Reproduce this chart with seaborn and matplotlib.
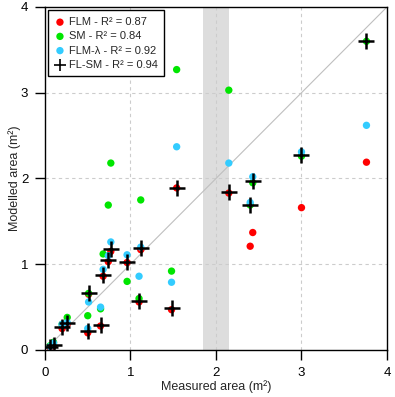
import numpy as np
import pandas as pd
import seaborn as sns
import matplotlib.pyplot as plt

# Measured vs modelled areas (m²)
measured = [0.06, 0.10, 0.20, 0.26, 0.50, 0.51, 0.65, 0.68, 0.74, 0.77,
            0.96, 1.10, 1.12, 1.48, 1.54, 2.15, 2.40, 2.43, 3.00, 3.76]
flm = [0.03, 0.05, 0.25, 0.30, 0.20, 0.65, 0.28, 0.86, 1.03, 1.15,
       1.02, 0.56, 1.17, 0.47, 1.89, 1.83, 1.21, 1.37, 1.66, 2.19]
sm = [0.05, 0.09, 0.30, 0.38, 0.40, 0.66, 0.48, 1.12, 1.69, 2.18,
      0.80, 0.60, 1.75, 0.92, 3.27, 3.03, 1.69, 1.95, 2.26, 3.60]
flm_lambda = [0.04, 0.08, 0.30, 0.32, 0.25, 0.56, 0.50, 0.94, 1.10, 1.26,
              1.11, 0.86, 1.20, 0.79, 2.37, 2.18, 1.72, 2.02, 2.31, 2.62]
fl_sm = [0.03, 0.06, 0.27, 0.31, 0.22, 0.66, 0.29, 0.87, 1.05, 1.18,
         1.03, 0.57, 1.19, 0.49, 1.89, 1.84, 1.69, 1.97, 2.27, 3.60]

labels = ['FLM - R² = 0.87', 'SM - R² = 0.84', 'FLM-λ - R² = 0.92', 'FL-SM - R² = 0.94']
colors = ['#ff0000', '#00e600', '#33ccff']

df = pd.DataFrame({'measured': measured, 'FLM': flm, 'SM': sm,
                   'FLM-λ': flm_lambda, 'FL-SM': fl_sm})

sns.set_style('ticks')
plt.rcParams['font.family'] = ['Liberation Sans', 'DejaVu Sans']

fig = plt.figure(figsize=(3.95, 3.97), dpi=100)
ax = fig.add_axes([0.1139, 0.1184, 0.8658, 0.864])

# grey band and reference lines
ax.axvspan(1.85, 2.15, color='#dddddd', lw=0, zorder=0)
for v in [1, 2, 3]:
    ax.axvline(v, color='#cccccc', ls=(0, (3, 3)), lw=0.8, zorder=0.5)
    ax.axhline(v, color='#cccccc', ls=(0, (3, 3)), lw=0.8, zorder=0.5)
ax.plot([0, 4], [0, 4], color='#bfbfbf', lw=0.8, zorder=0.6)

for col, lab, c in zip(['FLM', 'SM', 'FLM-λ'], labels[:3], colors):
    sns.scatterplot(x=df['measured'], y=df[col], color=c, s=28,
                    edgecolor='none', label=lab, ax=ax, zorder=2)
sns.scatterplot(x=df['measured'], y=df['FL-SM'], color='black', marker='+',
                s=120, linewidth=1.8, label=labels[3], ax=ax, zorder=3)

ax.set_xlim(0, 4)
ax.set_ylim(0, 4)
ax.set_xticks([0, 1, 2, 3, 4])
ax.set_yticks([0, 1, 2, 3, 4])
ax.tick_params(length=7, width=1, labelsize=9.5, colors='black', pad=5)
ax.set_xlabel('Measured area (m²)', fontsize=9, labelpad=1)
ax.set_ylabel('Modelled area (m²)', fontsize=9, labelpad=0)
for sp in ax.spines.values():
    sp.set_color('black')
    sp.set_linewidth(1)

leg = ax.legend(loc='upper left', bbox_to_anchor=(0.008, 0.99), fontsize=8,
                frameon=True, fancybox=False, framealpha=1, edgecolor='black',
                handletextpad=0.3, borderpad=0.6, labelspacing=0.38,
                handlelength=1.0, borderaxespad=0)
leg.get_frame().set_linewidth(1)
for h in leg.legend_handles[3:]:
    h.set_sizes([70])
    h.set_linewidth(1.2)

fig.savefig('out.png', dpi=100)
